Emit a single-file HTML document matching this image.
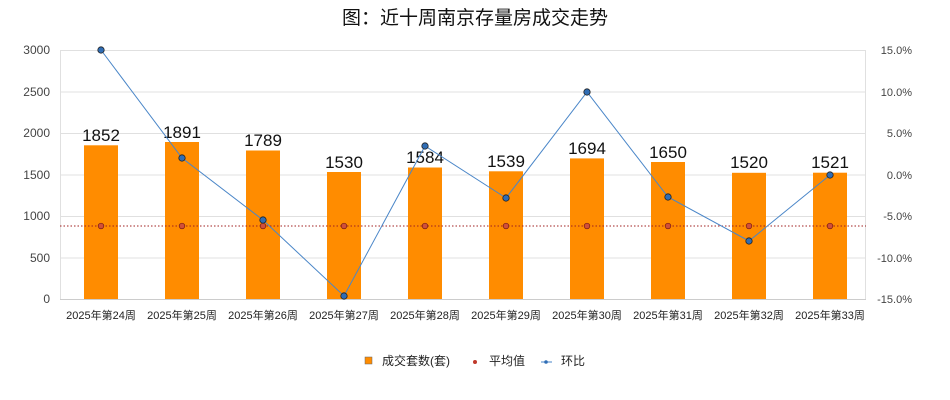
<!DOCTYPE html>
<html><head><meta charset="utf-8"><style>body{margin:0;background:#fff}svg{display:block}</style></head><body>
<svg width="950" height="400" xmlns="http://www.w3.org/2000/svg" font-family="Liberation Sans, Noto Sans CJK SC, sans-serif">
<rect width="950" height="400" fill="#fff"/>
<text x="475" y="24" text-anchor="middle" font-size="19" fill="#111" font-family="Noto Sans CJK SC, sans-serif">图：近十周南京存量房成交走势</text>
<g stroke="#e0e0e0" stroke-width="1">
<line x1="60" y1="50.5" x2="866" y2="50.5"/><line x1="60" y1="92" x2="866" y2="92"/><line x1="60" y1="133.5" x2="866" y2="133.5"/><line x1="60" y1="175" x2="866" y2="175"/><line x1="60" y1="216.5" x2="866" y2="216.5"/><line x1="60" y1="258" x2="866" y2="258"/>
<line x1="60.5" y1="50" x2="60.5" y2="299"/><line x1="865.5" y1="50" x2="865.5" y2="299"/>
</g>
<line x1="60" y1="299.5" x2="866" y2="299.5" stroke="#ccc"/>
<g font-size="12" fill="#444" text-anchor="end">
<text x="50" y="54">3000</text><text x="50" y="96">2500</text><text x="50" y="137">2000</text><text x="50" y="179">1500</text><text x="50" y="220">1000</text><text x="50" y="262">500</text><text x="50" y="303">0</text>
</g>
<g font-size="11" fill="#444" text-anchor="end">
<text x="912" y="54">15.0%</text><text x="912" y="96">10.0%</text><text x="912" y="137">5.0%</text><text x="912" y="179">0.0%</text><text x="912" y="220">-5.0%</text><text x="912" y="262">-10.0%</text><text x="912" y="303">-15.0%</text>
</g>
<g fill="#ff8c00">
<rect x="84" y="145.3" width="34" height="153.7"/>
<rect x="165" y="142" width="34" height="157"/>
<rect x="246" y="150.5" width="34" height="148.5"/>
<rect x="327" y="172" width="34" height="127"/>
<rect x="408" y="167.5" width="34" height="131.5"/>
<rect x="489" y="171.3" width="34" height="127.7"/>
<rect x="570" y="158.4" width="34" height="140.6"/>
<rect x="651" y="162" width="34" height="137"/>
<rect x="732" y="172.8" width="34" height="126.2"/>
<rect x="813" y="172.7" width="34" height="126.3"/>
</g>
<g font-size="17" fill="#111" text-anchor="middle">
<text x="101" y="141">1852</text><text x="182" y="138">1891</text><text x="263" y="146">1789</text><text x="344" y="168">1530</text><text x="425" y="163">1584</text><text x="506" y="167">1539</text><text x="587" y="154">1694</text><text x="668" y="158">1650</text><text x="749" y="168">1520</text><text x="830" y="168">1521</text>
</g>
<line x1="60" y1="226" x2="866" y2="226" stroke="#a02020" stroke-dasharray="1.5,2" stroke-width="1"/>
<g fill="#d0503b" stroke="#7a1a10" stroke-width="0.7">
<circle cx="101" cy="226" r="2.8"/><circle cx="182" cy="226" r="2.8"/><circle cx="263" cy="226" r="2.8"/><circle cx="344" cy="226" r="2.8"/><circle cx="425" cy="226" r="2.8"/><circle cx="506" cy="226" r="2.8"/><circle cx="587" cy="226" r="2.8"/><circle cx="668" cy="226" r="2.8"/><circle cx="749" cy="226" r="2.8"/><circle cx="830" cy="226" r="2.8"/>
</g>
<polyline points="101,50 182,158 263,220 344,296 425,146 506,198 587,92 668,197 749,241 830,175" fill="none" stroke="#4a86c8" stroke-width="1"/>
<g fill="#2f6db5" stroke="#222" stroke-width="0.8">
<circle cx="101" cy="50" r="3.2"/><circle cx="182" cy="158" r="3.2"/><circle cx="263" cy="220" r="3.2"/><circle cx="344" cy="296" r="3.2"/><circle cx="425" cy="146" r="3.2"/><circle cx="506" cy="198" r="3.2"/><circle cx="587" cy="92" r="3.2"/><circle cx="668" cy="197" r="3.2"/><circle cx="749" cy="241" r="3.2"/><circle cx="830" cy="175" r="3.2"/>
</g>
<g font-size="11" fill="#222" text-anchor="middle">
<text x="101" y="319">2025年第24周</text><text x="182" y="319">2025年第25周</text><text x="263" y="319">2025年第26周</text><text x="344" y="319">2025年第27周</text><text x="425" y="319">2025年第28周</text><text x="506" y="319">2025年第29周</text><text x="587" y="319">2025年第30周</text><text x="668" y="319">2025年第31周</text><text x="749" y="319">2025年第32周</text><text x="830" y="319">2025年第33周</text>
</g>
<rect x="365" y="357" width="7" height="7" fill="#ff8c00" stroke="#666" stroke-width="0.5"/>
<text x="382" y="365" font-size="12" fill="#222">成交套数(套)</text>
<circle cx="475" cy="362" r="2" fill="#c0392b"/>
<text x="489" y="365" font-size="12" fill="#222">平均值</text>
<line x1="541" y1="362" x2="552" y2="362" stroke="#4a86c8"/><circle cx="546" cy="362" r="1.8" fill="#2f6db5"/>
<text x="561" y="365" font-size="12" fill="#222">环比</text>
</svg>
</body></html>
